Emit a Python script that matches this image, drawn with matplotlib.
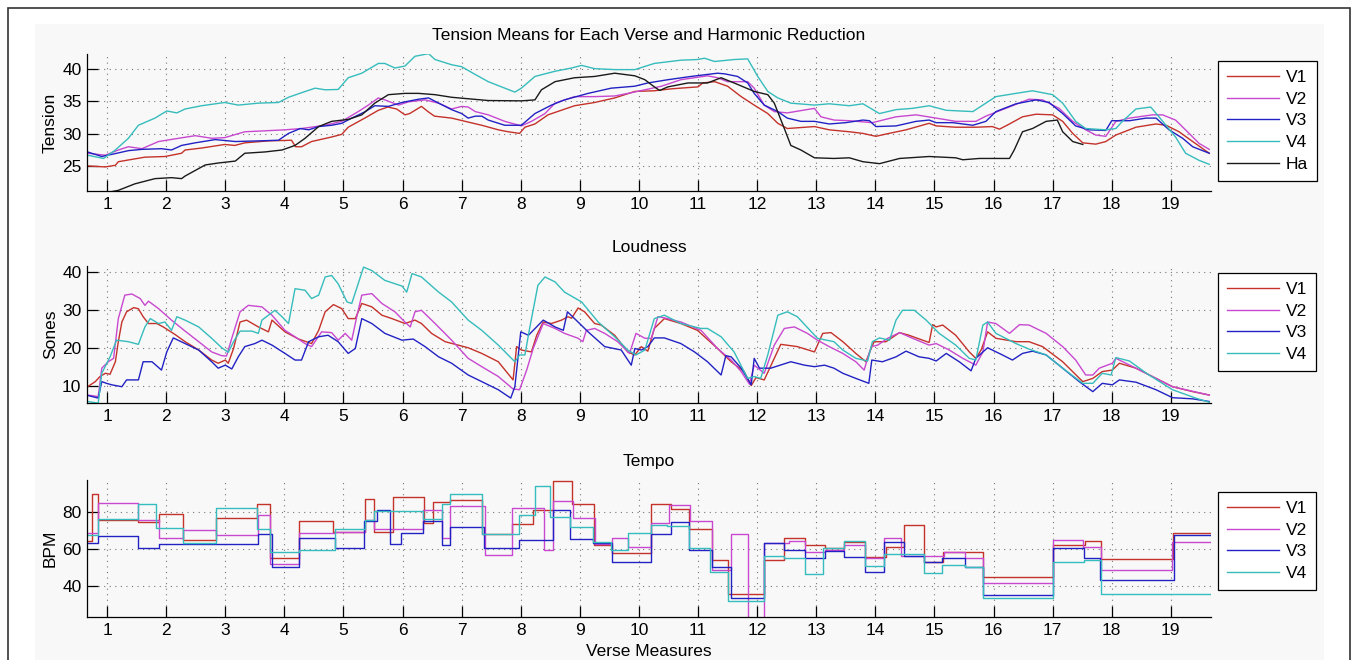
import matplotlib
matplotlib.use('Agg')
import matplotlib.pyplot as plt
from matplotlib.patches import Rectangle

plt.rcParams['font.family'] = ['Liberation Sans', 'DejaVu Sans']

measures = list(range(1, 20))
names = ['V1', 'V2', 'V3', 'V4', 'Ha']

# ---- tension (top panel) ----
ten_x_v1 = [0.67, 0.97, 1.14, 1.19, 1.64, 1.98, 2.26, 2.32, 2.60, 2.99, 3.16, 3.33, 3.73, 4.12, 4.19, 4.29, 4.46, 4.80, 4.97, 5.08,
            5.36, 5.59, 5.75, 5.90, 6.04, 6.12, 6.32, 6.43, 6.54, 6.83, 7.06, 7.34, 7.62, 7.79, 7.98, 8.07, 8.24, 8.46, 8.91, 9.25,
            9.59, 9.93, 10.26, 10.55, 11.00, 11.08, 11.28, 11.50, 11.73, 11.95, 12.18, 12.35, 12.51, 12.97, 13.22, 13.56, 13.79, 14.01, 14.18, 14.52,
            14.91, 15.03, 15.36, 15.70, 15.98, 16.10, 16.27, 16.49, 16.72, 17.00, 17.17, 17.34, 17.51, 17.73, 17.90, 18.07, 18.41, 18.75, 18.92, 19.14,
            19.37, 19.65]
ten_v1 = [25.05, 24.9, 25.15, 25.7, 26.4, 26.5, 27.0, 27.5, 27.8, 28.35, 28.2, 28.6, 28.9, 29.0, 28.0, 28.0, 28.8, 29.5, 29.9, 31.0,
          32.4, 33.6, 34.1, 33.8, 32.9, 33.1, 34.2, 33.4, 32.7, 32.4, 31.9, 31.3, 30.6, 30.3, 30.05, 31.0, 31.5, 32.9, 34.3, 34.8,
          35.5, 36.5, 36.6, 36.9, 37.2, 37.8, 38.0, 37.3, 35.7, 34.4, 33.1, 31.6, 30.8, 31.1, 30.6, 30.3, 30.05, 29.6, 29.95, 30.6,
          31.6, 31.2, 31.0, 31.0, 31.1, 30.7, 31.5, 32.6, 33.0, 32.9, 31.9, 30.05, 28.6, 28.4, 28.8, 29.8, 31.0, 31.5, 31.3, 30.3,
          28.8, 27.0]

ten_x_v2 = [0.67, 0.97, 1.19, 1.36, 1.59, 1.87, 2.21, 2.49, 2.77, 2.99, 3.33, 3.79, 4.01, 4.29, 4.69, 4.97, 5.25, 5.42, 5.59, 5.70,
            5.93, 6.10, 6.38, 6.61, 6.83, 7.00, 7.11, 7.23, 7.45, 7.73, 8.01, 8.18, 8.41, 8.58, 8.91, 9.25, 9.59, 9.87, 10.10, 10.38,
            10.71, 11.16, 11.33, 11.50, 11.84, 11.95, 12.12, 12.29, 12.51, 12.97, 13.08, 13.30, 13.56, 13.95, 14.35, 14.69, 15.03, 15.36, 15.70, 15.87,
            16.15, 16.60, 16.83, 17.11, 17.34, 17.56, 17.73, 17.90, 18.07, 18.30, 18.69, 18.86, 19.08, 19.31, 19.48, 19.65]
ten_v2 = [27.0, 26.7, 27.5, 28.0, 27.7, 28.8, 29.3, 29.7, 29.3, 29.4, 30.3, 30.5, 30.6, 30.8, 31.3, 31.9, 33.4, 34.4, 35.5, 35.2,
          34.4, 34.9, 35.2, 34.7, 33.8, 34.2, 34.1, 33.4, 32.9, 31.9, 31.2, 31.9, 33.1, 34.7, 35.7, 35.7, 35.8, 36.3, 36.75, 37.3,
          38.3, 38.9, 38.6, 38.0, 38.0, 37.0, 34.4, 33.4, 33.2, 33.9, 32.6, 32.1, 32.0, 31.7, 32.6, 32.9, 32.4, 31.9, 31.9, 32.7,
          33.7, 35.3, 35.2, 33.9, 31.9, 30.6, 29.8, 29.6, 31.9, 32.4, 32.9, 32.9, 32.1, 30.05, 28.5, 27.6]

ten_x_v3 = [0.67, 0.91, 1.14, 1.36, 1.59, 1.92, 2.09, 2.26, 2.49, 2.83, 3.17, 3.56, 3.90, 4.07, 4.27, 4.41, 4.58, 4.80, 4.97, 5.14,
            5.37, 5.53, 5.76, 5.99, 6.27, 6.44, 6.61, 6.83, 7.00, 7.11, 7.23, 7.34, 7.45, 7.73, 8.01, 8.24, 8.52, 8.74, 9.14, 9.53,
            9.93, 10.15, 10.49, 10.88, 11.33, 11.45, 11.67, 11.84, 11.95, 12.12, 12.35, 12.51, 12.74, 12.97, 13.22, 13.50, 13.79, 13.90, 14.01, 14.35,
            14.69, 14.91, 15.03, 15.31, 15.65, 15.87, 16.04, 16.38, 16.72, 16.94, 17.17, 17.39, 17.62, 17.90, 18.00, 18.30, 18.58, 18.75, 18.97, 19.20,
            19.37, 19.65]
ten_v3 = [27.2, 26.5, 26.95, 27.4, 27.6, 27.7, 27.5, 28.2, 28.6, 29.1, 28.8, 28.9, 29.0, 30.05, 30.8, 30.6, 31.1, 31.3, 31.6, 32.4,
          33.4, 34.3, 34.2, 34.8, 35.3, 35.5, 34.7, 33.7, 33.1, 32.4, 32.7, 32.7, 32.1, 31.3, 31.3, 33.1, 34.4, 35.2, 36.2, 37.0,
          37.3, 37.8, 38.3, 38.8, 39.3, 39.2, 38.8, 37.8, 36.2, 34.4, 33.4, 32.4, 31.9, 31.9, 31.5, 31.7, 32.1, 32.0, 31.1, 31.2,
          31.9, 32.1, 31.7, 31.7, 31.3, 31.9, 33.4, 34.6, 35.2, 34.8, 33.1, 31.2, 30.6, 30.5, 32.0, 32.0, 32.4, 32.4, 30.6, 29.3,
          28.0, 27.0]

ten_x_v4 = [0.67, 0.94, 1.14, 1.36, 1.53, 1.81, 2.01, 2.18, 2.32, 2.60, 2.99, 3.22, 3.56, 3.90, 4.07, 4.29, 4.52, 4.69, 4.91, 5.08,
            5.31, 5.59, 5.70, 5.87, 6.04, 6.21, 6.44, 6.55, 6.83, 7.00, 7.23, 7.45, 7.73, 7.90, 8.01, 8.24, 8.58, 8.86, 9.03, 9.25,
            9.59, 9.93, 10.26, 10.71, 10.99, 11.11, 11.28, 11.61, 11.84, 12.01, 12.18, 12.35, 12.57, 12.97, 13.22, 13.56, 13.79, 14.07, 14.35, 14.63,
            14.91, 15.20, 15.65, 15.87, 16.04, 16.38, 16.66, 17.00, 17.17, 17.39, 17.56, 17.90, 18.07, 18.18, 18.41, 18.66, 18.80, 19.08, 19.25, 19.48,
            19.65]
ten_v4 = [26.7, 26.2, 27.5, 29.3, 31.3, 32.4, 33.5, 33.2, 33.8, 34.3, 34.8, 34.4, 34.7, 34.8, 35.6, 36.3, 37.0, 36.75, 36.8, 38.6,
          39.3, 40.8, 40.8, 40.1, 40.4, 41.9, 42.3, 41.4, 40.6, 40.3, 39.1, 38.0, 37.0, 36.4, 37.0, 38.8, 39.6, 40.1, 40.5, 40.0,
          39.85, 39.85, 40.8, 41.3, 41.4, 41.6, 41.1, 41.4, 41.5, 38.8, 36.5, 35.5, 34.7, 34.4, 34.6, 34.3, 34.6, 33.1, 33.7, 33.9,
          34.3, 33.6, 33.4, 34.7, 35.7, 36.2, 36.6, 36.0, 34.7, 31.9, 30.8, 30.6, 30.8, 31.9, 33.8, 34.1, 32.6, 29.5, 27.0, 25.9,
          25.3]

ten_x_ha = [0.90, 1.19, 1.47, 1.81, 2.09, 2.26, 2.32, 2.66, 2.88, 3.17, 3.33, 3.67, 3.96, 4.18, 4.35, 4.58, 4.80, 5.08, 5.31, 5.53,
            5.76, 6.04, 6.27, 6.55, 6.83, 7.45, 8.01, 8.24, 8.35, 8.58, 8.91, 9.25, 9.59, 9.93, 10.10, 10.26, 10.35, 10.49, 10.83, 11.16,
            11.39, 11.61, 11.95, 12.18, 12.29, 12.46, 12.57, 12.74, 12.97, 13.30, 13.56, 13.79, 14.07, 14.41, 14.91, 15.36, 15.48, 15.76, 16.27, 16.35,
            16.49, 16.66, 16.89, 17.08, 17.17, 17.34, 17.51]
ten_ha = [20.8, 21.3, 22.3, 23.1, 23.25, 23.1, 23.5, 25.2, 25.5, 25.8, 27.0, 27.2, 27.5, 28.2, 29.3, 31.1, 31.9, 32.2, 32.9, 34.7,
          36.0, 36.2, 36.2, 36.0, 35.6, 35.1, 35.05, 35.2, 36.75, 38.0, 38.6, 38.8, 39.3, 38.9, 38.3, 37.2, 36.65, 37.2, 37.8, 37.8,
          38.6, 37.8, 36.5, 36.0, 34.7, 30.8, 28.2, 27.5, 26.3, 26.2, 26.3, 25.7, 25.4, 26.2, 26.5, 26.3, 26.0, 26.2, 26.2, 27.5,
          30.3, 30.8, 31.9, 32.1, 30.3, 28.8, 28.35]

# ---- loudness (middle panel) ----
loud_x_v1 = [0.67, 0.80, 0.88, 0.97, 1.05, 1.14, 1.19, 1.25, 1.33, 1.45, 1.53, 1.61, 1.70, 1.84, 1.95, 2.15, 2.32, 2.55, 2.77, 2.88,
             3.00, 3.05, 3.14, 3.25, 3.36, 3.56, 3.73, 3.79, 4.01, 4.24, 4.46, 4.58, 4.69, 4.83, 4.97, 5.08, 5.20, 5.31, 5.48, 5.65,
             5.82, 6.04, 6.21, 6.32, 6.49, 6.72, 7.11, 7.34, 7.62, 7.87, 7.93, 8.01, 8.18, 8.27, 8.38, 8.52, 8.69, 8.80, 8.86, 8.97,
             9.08, 9.25, 9.36, 9.59, 9.81, 9.93, 10.04, 10.15, 10.26, 10.43, 10.71, 10.99, 11.33, 11.56, 11.78, 11.90, 11.98, 12.12, 12.29, 12.40,
             12.68, 12.97, 13.11, 13.25, 13.45, 13.67, 13.84, 13.93, 13.98, 14.18, 14.41, 14.57, 14.80, 14.91, 14.97, 15.03, 15.14, 15.36, 15.59, 15.70,
             15.79, 15.90, 16.04, 16.38, 16.60, 16.83, 17.17, 17.51, 17.68, 17.84, 18.01, 18.13, 18.41, 18.75, 19.03, 19.37, 19.65]
loud_v1 = [9.7, 11.05, 12.4, 13.25, 13.0, 16.3, 21.6, 26.8, 29.5, 30.6, 30.3, 28.2, 26.4, 26.4, 25.5, 23.5, 21.6, 19.4, 16.75, 15.9,
           16.75, 15.9, 19.8, 26.8, 27.3, 25.5, 24.2, 27.3, 24.2, 22.3, 21.1, 24.6, 29.5, 31.4, 30.35, 27.7, 27.7, 31.7, 30.8, 28.6,
           27.7, 26.4, 27.3, 26.4, 23.8, 21.6, 20.0, 18.5, 16.3, 11.5, 20.3, 19.4, 18.9, 23.3, 26.8, 26.4, 27.3, 28.2, 27.8, 30.5,
           29.5, 26.4, 26.0, 23.3, 18.9, 18.1, 20.3, 19.1, 25.1, 27.7, 26.4, 24.6, 19.8, 16.3, 13.7, 10.0, 12.1, 11.5, 17.2, 20.9,
           20.3, 18.9, 23.8, 24.0, 21.6, 18.5, 16.3, 19.8, 21.6, 21.6, 24.0, 23.3, 22.0, 21.4, 26.1, 25.5, 26.0, 23.3, 18.9, 17.2,
           19.4, 24.2, 22.5, 21.6, 21.6, 20.3, 16.3, 11.05, 11.9, 13.7, 14.1, 15.9, 14.6, 11.9, 9.7, 8.4, 7.5]

loud_x_v2 = [0.67, 0.85, 0.91, 1.02, 1.11, 1.19, 1.30, 1.42, 1.56, 1.64, 1.70, 1.87, 2.09, 2.32, 2.55, 2.77, 2.94, 3.02, 3.11, 3.25,
             3.39, 3.62, 3.79, 4.01, 4.18, 4.35, 4.46, 4.63, 4.80, 4.91, 5.03, 5.14, 5.23, 5.31, 5.48, 5.65, 5.87, 6.04, 6.13, 6.21,
             6.32, 6.55, 6.83, 7.11, 7.34, 7.62, 7.87, 7.98, 8.10, 8.21, 8.38, 8.58, 8.74, 8.97, 9.05, 9.11, 9.25, 9.42, 9.64, 9.84,
             9.95, 10.10, 10.21, 10.32, 10.43, 10.71, 11.05, 11.33, 11.56, 11.73, 11.87, 11.95, 12.12, 12.29, 12.46, 12.63, 12.85, 13.02, 13.22, 13.45,
             13.67, 13.81, 13.93, 14.04, 14.21, 14.41, 14.63, 14.91, 15.03, 15.25, 15.48, 15.70, 15.82, 15.90, 16.04, 16.27, 16.44, 16.60, 16.89, 17.17,
             17.39, 17.56, 17.68, 17.79, 18.01, 18.07, 18.41, 18.75, 19.03, 19.65]
loud_v2 = [7.5, 7.1, 14.6, 16.3, 17.2, 27.7, 33.9, 34.2, 33.0, 31.2, 32.3, 30.35, 27.3, 24.4, 21.6, 18.9, 17.9, 17.8, 22.5, 29.5,
           31.2, 30.8, 28.6, 24.6, 22.9, 21.1, 20.3, 24.2, 24.0, 22.0, 23.8, 22.0, 28.6, 33.9, 34.3, 31.7, 29.5, 26.8, 25.5, 29.5,
           29.9, 26.4, 22.0, 17.2, 15.0, 12.4, 9.1, 8.9, 14.1, 19.8, 26.4, 25.1, 23.8, 22.5, 21.6, 24.6, 25.1, 23.8, 21.6, 18.5,
           23.8, 22.5, 22.5, 28.2, 27.9, 26.8, 24.6, 19.8, 16.75, 13.7, 10.35, 15.4, 13.25, 20.7, 25.1, 25.5, 23.8, 22.0, 20.3, 18.5,
           16.3, 14.1, 20.3, 20.7, 22.5, 24.0, 22.5, 20.7, 21.1, 19.4, 17.2, 15.4, 18.9, 26.8, 26.4, 23.8, 26.1, 26.0, 23.8, 20.3,
           16.75, 12.8, 12.8, 14.6, 15.9, 17.2, 14.6, 11.9, 9.7, 7.5]

loud_x_v3 = [0.67, 0.85, 0.91, 0.99, 1.08, 1.25, 1.33, 1.53, 1.61, 1.76, 1.92, 2.01, 2.12, 2.32, 2.55, 2.77, 2.88, 3.00, 3.11, 3.22,
             3.33, 3.50, 3.62, 3.79, 4.01, 4.18, 4.29, 4.41, 4.58, 4.74, 4.91, 5.08, 5.20, 5.31, 5.48, 5.70, 5.99, 6.18, 6.38, 6.61,
             6.83, 7.11, 7.34, 7.62, 7.83, 7.90, 8.00, 8.13, 8.38, 8.58, 8.72, 8.79, 8.91, 9.14, 9.42, 9.70, 9.87, 9.93, 10.04, 10.15,
             10.26, 10.43, 10.71, 10.94, 11.16, 11.39, 11.47, 11.56, 11.73, 11.90, 11.95, 12.04, 12.23, 12.57, 12.80, 12.97, 13.14, 13.30, 13.45, 13.67,
             13.89, 13.94, 14.12, 14.35, 14.52, 14.74, 14.91, 15.03, 15.20, 15.42, 15.62, 15.70, 15.90, 16.15, 16.32, 16.49, 16.66, 16.89, 17.17, 17.45,
             17.68, 17.84, 18.01, 18.13, 18.41, 18.75, 19.03, 19.37, 19.65]
loud_v3 = [7.4, 6.7, 11.05, 10.6, 10.2, 9.7, 11.5, 11.5, 16.3, 16.3, 14.1, 18.9, 22.6, 21.1, 19.4, 16.3, 14.6, 15.4, 14.4, 17.6,
           20.3, 21.1, 22.0, 20.7, 18.5, 16.75, 16.75, 21.6, 22.9, 23.3, 21.6, 18.5, 19.8, 27.7, 26.4, 23.8, 22.0, 22.3, 20.3, 17.6,
           15.9, 12.8, 11.05, 8.9, 6.7, 9.7, 24.2, 23.3, 27.3, 25.5, 24.6, 29.5, 27.7, 24.2, 20.3, 19.4, 15.4, 19.8, 19.4, 20.3,
           22.6, 22.6, 21.1, 18.9, 16.3, 12.8, 17.9, 17.6, 14.6, 10.2, 17.2, 14.6, 14.6, 16.3, 15.4, 15.0, 15.4, 14.6, 13.25, 11.9,
           10.6, 16.75, 16.3, 17.6, 19.1, 17.6, 17.2, 16.5, 18.5, 16.3, 13.9, 17.2, 20.0, 18.1, 16.75, 18.5, 19.1, 18.1, 14.6, 11.05,
           8.4, 10.6, 10.2, 11.5, 10.9, 8.9, 6.8, 6.5, 5.8]

loud_x_v4 = [0.67, 0.85, 0.91, 1.05, 1.16, 1.36, 1.53, 1.64, 1.73, 1.87, 1.98, 2.09, 2.18, 2.32, 2.55, 2.77, 2.94, 3.05, 3.14, 3.25,
             3.45, 3.56, 3.62, 3.73, 3.84, 3.96, 4.07, 4.18, 4.35, 4.46, 4.58, 4.69, 4.80, 4.91, 5.06, 5.14, 5.34, 5.48, 5.70, 5.99,
             6.07, 6.16, 6.32, 6.61, 6.83, 7.11, 7.34, 7.62, 7.90, 7.98, 8.07, 8.15, 8.29, 8.41, 8.58, 8.74, 9.03, 9.31, 9.59, 9.81,
             9.95, 10.10, 10.26, 10.43, 10.71, 11.05, 11.16, 11.39, 11.61, 11.84, 11.95, 12.06, 12.18, 12.35, 12.51, 12.68, 13.02, 13.30, 13.45, 13.67,
             13.87, 13.95, 14.07, 14.24, 14.35, 14.46, 14.66, 14.86, 15.08, 15.36, 15.59, 15.70, 15.82, 15.90, 16.04, 16.38, 16.60, 16.89, 17.17, 17.51,
             17.68, 17.84, 17.99, 18.07, 18.30, 18.63, 19.03, 19.42, 19.65]
loud_v4 = [5.8, 5.35, 13.25, 17.6, 22.0, 21.6, 20.9, 25.5, 27.7, 26.4, 26.8, 24.6, 28.2, 27.3, 25.5, 22.5, 20.0, 18.8, 21.6, 24.4,
           24.4, 23.8, 27.3, 28.6, 29.9, 28.2, 26.4, 35.6, 35.2, 33.0, 33.9, 38.7, 39.1, 36.9, 32.1, 31.7, 41.3, 40.4, 37.8, 36.3,
           34.7, 39.6, 38.7, 34.7, 32.1, 27.3, 24.6, 20.7, 16.3, 18.1, 18.1, 25.1, 36.5, 38.7, 37.4, 34.7, 32.1, 26.8, 22.9, 19.4,
           18.1, 19.4, 27.7, 28.6, 26.4, 25.1, 25.1, 22.9, 18.9, 11.9, 12.4, 11.9, 18.1, 28.6, 29.5, 28.2, 22.5, 21.6, 19.4, 17.2,
           16.5, 21.6, 22.6, 22.0, 27.3, 29.9, 29.9, 27.3, 23.8, 20.7, 17.2, 16.75, 26.0, 26.8, 23.8, 21.1, 19.65, 18.1, 14.6, 10.6,
           10.6, 13.25, 12.8, 17.4, 16.5, 12.8, 8.9, 6.7, 5.6]

# ---- tempo (bottom panel), step values starting at each x ----
tempo_x_v1 = [0.68, 0.74, 0.85, 1.53, 1.87, 2.28, 2.85, 3.53, 3.75, 4.24, 4.83, 5.36, 5.52, 5.83, 6.37, 6.51, 6.81, 7.35, 7.86, 8.20,
              8.54, 8.86, 9.24, 9.54, 10.20, 10.54, 10.85, 11.24, 11.51, 12.12, 12.45, 12.81, 13.15, 13.47, 13.82, 14.18, 14.48, 14.82, 15.14, 15.82,
              17.00, 17.55, 17.82, 19.04, 19.68]
tempo_v1 = [64.3, 89.9, 75.9, 74.6, 78.7, 64.7, 76.8, 84.1, 54.8, 75.1, 69.2, 87.2, 69.2, 88.1, 74.1, 85.4, 86.7, 68, 73.3, 80.9,
            97.1, 84.5, 62, 57.5, 84.5, 81.4, 70.6, 53.9, 35.5, 53.9, 66.1, 62, 60.2, 63.8, 55.7, 60.7, 73.2, 53.0, 58.4, 44.9,
            62, 64.3, 54.4, 68.8, 68.8]

tempo_x_v2 = [0.68, 0.84, 1.53, 1.87, 2.28, 2.85, 3.56, 3.75, 4.24, 4.85, 5.37, 5.52, 6.35, 6.66, 6.81, 7.40, 7.86, 8.39, 8.54, 8.88,
              9.26, 9.54, 9.82, 10.20, 10.50, 10.86, 11.24, 11.55, 11.84, 12.12, 12.54, 12.81, 13.15, 13.47, 13.82, 14.14, 14.44, 15.17, 15.51, 15.82,
              17.00, 17.51, 17.82, 19.02, 19.68]
tempo_v2 = [68.8, 84.9, 75.5, 65.9, 70.1, 67.4, 78.2, 51.5, 68.6, 69.2, 75.5, 70.5, 80.9, 65.6, 83.2, 56.6, 82.3, 59.6, 85.8, 76.9,
            62.5, 65.6, 60.7, 74.2, 83.6, 75.1, 48.5, 67.9, 15, 63.2, 64.1, 58.4, 59.3, 62.3, 54.8, 65.9, 56.0, 58.4, 54.8, 41.3,
            65.0, 61.1, 48.5, 63.8, 63.8]

tempo_x_v3 = [0.68, 0.84, 1.53, 1.87, 3.56, 3.79, 4.24, 4.85, 5.34, 5.56, 5.79, 5.98, 6.35, 6.67, 6.81, 7.37, 7.97, 8.54, 8.84, 9.22,
              9.54, 10.20, 10.54, 10.85, 11.24, 11.55, 12.12, 12.46, 12.81, 13.15, 13.47, 13.82, 14.14, 14.48, 14.82, 15.13, 15.51, 15.82, 17.00, 17.53,
              17.80, 19.05, 19.68]
tempo_v3 = [63.4, 67.0, 60.5, 62.5, 67.9, 49.9, 66.1, 60.5, 75.1, 80.9, 62.5, 68.8, 75.1, 62.0, 71.9, 60.5, 65.0, 81.3, 65.2, 63.2,
            52.6, 68.0, 74.6, 59.6, 50.3, 33.2, 63.2, 59.6, 54.8, 59.0, 55.7, 47.6, 63.8, 56.0, 53.0, 54.8, 49.9, 35.0, 60.2, 54.8,
            43.1, 67.4, 67.4]

tempo_x_v4 = [0.68, 0.84, 1.53, 1.83, 2.28, 2.85, 3.53, 3.75, 4.24, 4.85, 5.37, 5.52, 6.35, 6.66, 6.81, 7.35, 7.97, 8.24, 8.50, 8.84,
              9.22, 9.52, 9.82, 10.20, 10.48, 10.85, 11.21, 11.51, 12.12, 12.46, 12.81, 13.11, 13.47, 13.82, 14.14, 14.82, 15.13, 15.51, 15.82, 17.00,
              17.53, 17.82, 19.68]
tempo_v4 = [67.4, 76.0, 84.5, 71.5, 62.9, 82.3, 71.0, 58.4, 59.6, 70.6, 75.9, 80.4, 76.4, 84.5, 89.9, 67.9, 78.2, 93.9, 77.3, 71.9,
            63.8, 59.3, 68.6, 73.2, 72.3, 60.2, 47.6, 31.6, 56.0, 55.1, 46.1, 60.2, 64.1, 50.6, 56.9, 46.6, 51.2, 49.9, 33.2, 53.0,
            53.9, 35.5, 35.5]

colors = ['#c4322a', '#c848d0', '#2222c4', '#36bcbc', '#1a1a1a']
panel = '#f8f8f8'
W, H = 1357, 660
FS = 12.5

fig = plt.figure(figsize=(W / 100, H / 100), dpi=100, facecolor='white')
fig.patches.append(Rectangle((35 / W, 0), (1324 - 35) / W, (H - 24) / H, transform=fig.transFigure,
                             facecolor=panel, edgecolor='none', zorder=-2))
fig.patches.append(Rectangle((8 / W, -0.05), (1350 - 8) / W, (H - 8) / H + 0.05, transform=fig.transFigure,
                             facecolor='none', edgecolor='#333333', linewidth=1.2, zorder=-1))


def make_axes(top_px, ylim, yticks, ylabel, title):
    ax = fig.add_axes([87 / W, 1 - (top_px + 137) / H, (1211 - 87) / W, 137 / H])
    ax.set_facecolor(panel)
    ax.set_xlim(0.66, 19.68)
    ax.set_ylim(*ylim)
    ax.set_xticks(measures)
    ax.set_yticks(yticks)
    for s in ['top', 'right']:
        ax.spines[s].set_visible(False)
    for s in ['left', 'bottom']:
        ax.spines[s].set_linewidth(0.9)
    ax.tick_params(direction='in', length=8, width=0.9, labelsize=FS, pad=4)
    ax.grid(True, linestyle=(0, (1, 4)), color='#777777', linewidth=0.8)
    ax.set_axisbelow(True)
    ax.set_ylabel(ylabel, fontsize=FS, labelpad=3)
    ax.set_title(title, fontsize=FS, pad=10)
    return ax


def add_legend(ax, top_px):
    leg = ax.legend(loc='upper left', bbox_to_anchor=(1218 / W, 1 - top_px / H),
                    bbox_transform=fig.transFigure, borderaxespad=0, fontsize=FS,
                    handlelength=3.0, handletextpad=0.4, borderpad=0.5, labelspacing=0.38,
                    fancybox=False, framealpha=1, facecolor='white', edgecolor='black')
    leg.get_frame().set_linewidth(0.9)


ax1 = make_axes(54, (21.2, 42.25), [25, 30, 35, 40], 'Tension',
                'Tension Means for Each Verse and Harmonic Reduction')
for xs, ys, c, n in zip([ten_x_v1, ten_x_v2, ten_x_v3, ten_x_v4, ten_x_ha],
                        [ten_v1, ten_v2, ten_v3, ten_v4, ten_ha], colors, names):
    ax1.plot(xs, ys, color=c, linewidth=1.0, label=n)
add_legend(ax1, 61)

ax2 = make_axes(266, (5.4, 41.6), [10, 20, 30, 40], 'Sones', 'Loudness')
for xs, ys, c, n in zip([loud_x_v1, loud_x_v2, loud_x_v3, loud_x_v4],
                        [loud_v1, loud_v2, loud_v3, loud_v4], colors, names):
    ax2.plot(xs, ys, color=c, linewidth=1.0, label=n)
add_legend(ax2, 273)

ax3 = make_axes(480, (22.9, 97.4), [40, 60, 80], 'BPM', 'Tempo')
for xs, ys, c, n in zip([tempo_x_v1, tempo_x_v2, tempo_x_v3, tempo_x_v4],
                        [tempo_v1, tempo_v2, tempo_v3, tempo_v4], colors, names):
    ax3.step(xs, ys, where='post', color=c, linewidth=1.0, label=n)
add_legend(ax3, 492)
ax3.set_xlabel('Verse Measures', fontsize=FS, labelpad=5)

fig.savefig('out.png', dpi=100, facecolor='white')
